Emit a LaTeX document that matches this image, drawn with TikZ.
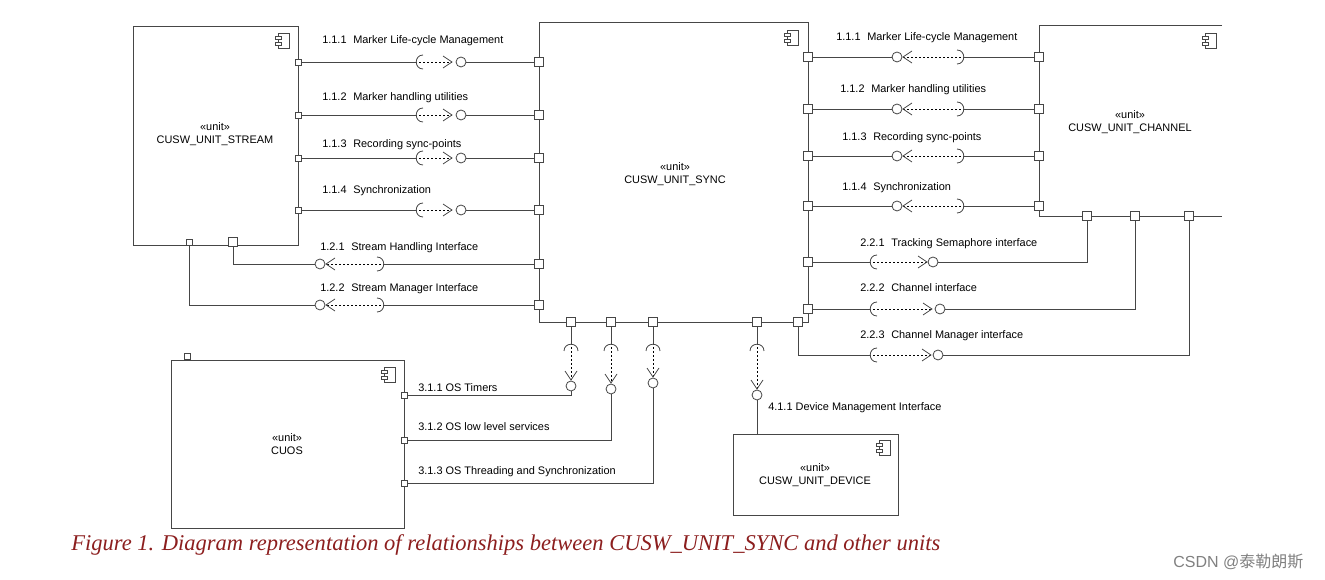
\documentclass[tikz,border=0pt]{standalone}
\usepackage{fontspec}
\setmainfont{Liberation Sans}
\newfontfamily\capfont{Liberation Serif}
\newfontfamily\cjk{Noto Sans CJK SC}
\usetikzlibrary{calc}
\definecolor{ln}{RGB}{70,70,70}
\definecolor{capc}{RGB}{140,30,30}
\tikzset{
 box/.style={draw=ln,line width=0.7pt,inner sep=0pt},
 port/.style={draw=ln,fill=white,line width=0.6pt,minimum size=6.5pt,inner sep=0pt},
 sport/.style={draw=ln,fill=white,line width=0.6pt,minimum size=4.5pt,inner sep=0pt},
 wire/.style={draw=ln,line width=0.7pt},
 dsh/.style={draw=black,line width=0.6pt,dash pattern=on 1.5pt off 1.5pt},
 sym/.style={draw=ln,line width=0.6pt},
 lbl/.style={font=\fontsize{8.2}{9}\selectfont,anchor=west,inner sep=0pt},
 ctxt/.style={font=\fontsize{8.2}{9.5}\selectfont,align=center,inner sep=0pt}
}
\newcommand\provR[4]{%
 \draw[sym] ({#1+6},{#4-7}) .. controls ({#1-3},{#4-7}) and ({#1-3},{#4+7}) .. ({#1+6},{#4+7});
 \draw[dsh] ({#1+2},#4) -- (#2,#4);
 \draw[sym] ({#2-9},{#4-6}) -- (#2,#4) -- ({#2-9},{#4+6});
 \draw[sym,fill=white] (#3,#4) circle[radius=5];}
\newcommand\provL[4]{%
 \draw[sym] ({#3-6},{#4-7}) .. controls ({#3+3},{#4-7}) and ({#3+3},{#4+7}) .. ({#3-6},{#4+7});
 \draw[dsh] ({#3-2},#4) -- (#2,#4);
 \draw[sym] ({#2+9},{#4-6}) -- (#2,#4) -- ({#2+9},{#4+6});
 \draw[sym,fill=white] (#1,#4) circle[radius=5];}
\newcommand\provD[4]{%
 \draw[sym] ({#1-7},{#2+6}) .. controls ({#1-7},{#2-3}) and ({#1+7},{#2-3}) .. ({#1+7},{#2+6});
 \draw[dsh] (#1,{#2+2}) -- (#1,#3);
 \draw[sym] ({#1-6},{#3-9}) -- (#1,#3) -- ({#1+6},{#3-9});
 \draw[sym,fill=white] (#1,#4) circle[radius=5];}
\newcommand\compicon[2]{%
 \draw[sym,fill=white] ({#1-11},#2) rectangle (#1,{#2+15});
 \draw[sym,fill=white] ({#1-14},{#2+3}) rectangle ({#1-8},{#2+6});
 \draw[sym,fill=white] ({#1-14},{#2+9}) rectangle ({#1-8},{#2+12});}
\begin{document}
\begin{tikzpicture}[x=0.75pt,y=-0.75pt]
\useasboundingbox (0,0) rectangle (1325,580);
\node[box,minimum width=165*0.75pt,minimum height=219*0.75pt,anchor=north west] (stream) at (133,26) {};
\node[box,minimum width=269*0.75pt,minimum height=300*0.75pt,anchor=north west] (sync) at (539,22) {};
\draw[wire] (1222,25) -- (1039,25) -- (1039,216) -- (1222,216);
\node[box,minimum width=233*0.75pt,minimum height=168*0.75pt,anchor=north west] (cuos) at (171,360) {};
\node[box,minimum width=165*0.75pt,minimum height=81*0.75pt,anchor=north west] (dev) at (733,434) {};
\node[ctxt] at (215,134) {«unit»\\CUSW\_UNIT\_STREAM};
\node[ctxt] at (675,174) {«unit»\\CUSW\_UNIT\_SYNC};
\node[ctxt] (chan) at (1130,122) {«unit»\\CUSW\_UNIT\_CHANNEL};
\node[ctxt] at (287,444) {«unit»\\CUOS};
\node[ctxt] at (815,475) {«unit»\\CUSW\_UNIT\_DEVICE};
\compicon{289}{33}
\compicon{798}{30}
\compicon{1216}{33}
\compicon{395}{367}
\compicon{890}{440}
\node[sport] (cuostab) at (187,356) {};
\foreach \n/\y in {1/62,2/115,3/158,4/210}{
 \node[sport] (sl\n) at (298,\y) {};
 \node[port] (yl\n) at (539,\y) {};}
\node[port] (yl5) at (539,264) {};
\node[port] (yl6) at (539,305) {};
\node[sport] (sb1) at (189,242) {};
\node[port] (sb2) at (233,242) {};
\foreach \n/\y in {1/57,2/109,3/156,4/206}{
 \node[port] (yr\n) at (808,\y) {};
 \node[port] (cl\n) at (1039,\y) {};}
\node[port] (yr5) at (808,262) {};
\node[port] (yr6) at (808,309) {};
\node[port] (yb5) at (798,322) {};
\node[port] (cb1) at (1087,216) {};
\node[port] (cb2) at (1135,216) {};
\node[port] (cb3) at (1189,216) {};
\foreach \n/\x in {1/571,2/611,3/653,4/757}{\node[port] (yb\n) at (\x,322) {};}
\node[sport] (co1) at (404,395) {};
\node[sport] (co2) at (404,440) {};
\node[sport] (co3) at (404,483) {};
\foreach \n/\y in {1/62,2/115,3/158,4/210}{
 \draw[wire] (sl\n) -- (417,\y);
 \draw[wire] (466,\y) -- (yl\n);
 \provR{417}{452}{461}{\y}}
\node[lbl] at (322,41) {1.1.1\,\, Marker Life-cycle Management};
\node[lbl] at (322,98) {1.1.2\,\, Marker handling utilities};
\node[lbl] at (322,145) {1.1.3\,\, Recording sync-points};
\node[lbl] at (322,191) {1.1.4\,\, Synchronization};
\draw[wire] (sb2) |- (315,264);
\draw[wire] (383,264) -- (yl5);
\provL{320}{326}{383}{264}
\draw[wire] (sb1) |- (315,305);
\draw[wire] (383,305) -- (yl6);
\provL{320}{326}{383}{305}
\node[lbl] at (320,248) {1.2.1\,\, Stream Handling Interface};
\node[lbl] at (320,289) {1.2.2\,\, Stream Manager Interface};
\foreach \n/\y in {1/57,2/109,3/156,4/206}{
 \draw[wire] (yr\n) -- (892,\y);
 \draw[wire] (963,\y) -- (cl\n);
 \provL{897}{903}{963}{\y}}
\node[lbl] at (836,38) {1.1.1\,\, Marker Life-cycle Management};
\node[lbl] at (840,90) {1.1.2\,\, Marker handling utilities};
\node[lbl] at (842,138) {1.1.3\,\, Recording sync-points};
\node[lbl] at (842,188) {1.1.4\,\, Synchronization};
\draw[wire] (yr5) -- (871,262);
\draw[wire] (938,262) -| (cb1);
\provR{871}{927}{933}{262}
\draw[wire] (yr6) -- (871,309);
\draw[wire] (945,309) -| (cb2);
\provR{871}{932}{940}{309}
\draw[wire] (yb5) |- (871,355);
\draw[wire] (943,355) -| (cb3);
\provR{871}{931}{938}{355}
\node[lbl] at (860,244) {2.2.1\,\, Tracking Semaphore interface};
\node[lbl] at (860,288) {2.2.2\,\, Channel interface};
\node[lbl] at (860,336) {2.2.3\,\, Channel Manager interface};
\foreach \n/\x/\t/\c in {1/571/380/386,2/611/383/389,3/653/377/383,4/757/389/395}{
 \draw[wire] (yb\n) -- (\x,345);
 \provD{\x}{345}{\t}{\c}}
\draw[wire] (571,391) |- (co1);
\draw[wire] (611,394) |- (co2);
\draw[wire] (653,388) |- (co3);
\draw[wire] (757,400) -- (757,434);
\node[lbl] at (418,388) {3.1.1 OS Timers};
\node[lbl] at (418,427) {3.1.2 OS low level services};
\node[lbl] at (418,472) {3.1.3 OS Threading and Synchronization};
\node[lbl] at (768,408) {4.1.1 Device Management Interface};
\node[anchor=west,inner sep=0pt,text=capc,font=\capfont\itshape\fontsize{16.9}{19}\selectfont] at (71,545) {Figure 1. Diagram representation of relationships between CUSW\_UNIT\_SYNC and other units};
\node[anchor=west,inner sep=0pt,text=gray,font=\fontsize{12}{14}\selectfont] at (1173,562) {CSDN @{\cjk 泰勒朗斯}};
\end{tikzpicture}
\end{document}
